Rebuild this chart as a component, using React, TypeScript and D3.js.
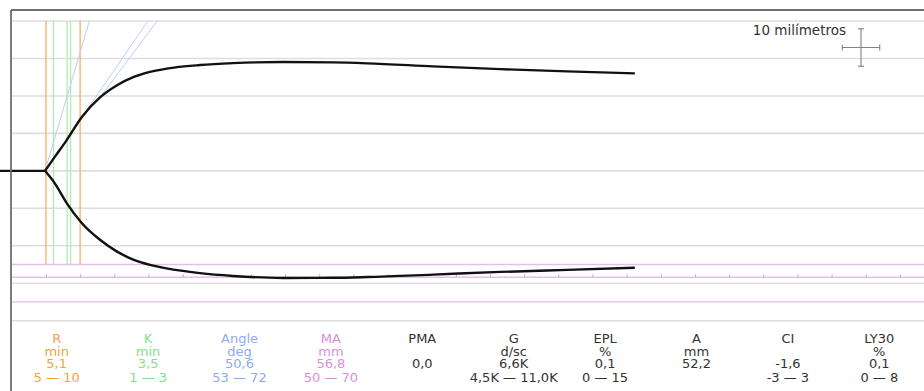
import React, { useEffect, useRef } from 'react';
import * as d3 from 'd3';

// trace (minutes, half amplitude in mm above / below the centre line)
const traceTimes = [0, 4.86, 6.32, 8.04, 10.23, 12.91, 15.35, 17.78, 20.23, 22.67, 27.55, 32.4, 39.7, 47.0, 52.0, 61.65, 71.5, 81.3, 91.2];
const upperAmp = [0, 0, 3.8, 8.22, 14.3, 19.6, 22.8, 25.0, 26.4, 27.3, 28.25, 28.75, 29.05, 28.95, 28.7, 27.9, 27.15, 26.56, 26.03];
const lowerAmp = [0, 0, 3.4, 8.6, 13.9, 18.4, 21.5, 23.7, 25.1, 26.05, 27.3, 28.05, 28.6, 28.55, 28.35, 27.7, 26.98, 26.43, 25.87];

const gridMm = [-40, -30, -20, -10, 0, 10, 20, 30, 40];
const maLinesMm = [25, 28.4, 35]; // MA range low, MA actual, MA range high (half widths)
const rValue = 5.1;
const rRange = [5, 10];
const kRange = [1, 3];
const kValue = 3.5;
const angleLines = [72, 53, 50.6];

const paramNames = ['R', 'K', 'Angle', 'MA', 'PMA', 'G', 'EPL', 'A', 'CI', 'LY30'];
const paramUnits = ['min', 'min', 'deg', 'mm', '', 'd/sc', '%', 'mm', '', '%'];
const paramValues = ['5,1', '3,5', '50,6', '56,8', '0,0', '6,6K', '0,1', '52,2', '-1,6', '0,1'];
const paramRanges = ['5 — 10', '1 — 3', '53 — 72', '50 — 70', '', '4,5K — 11,0K', '0 — 15', '', '-3 — 3', '0 — 8'];
const paramColors = ['#f2a444', '#86e08a', '#8eaaf0', '#d98fe0', '#333', '#333', '#333', '#333', '#333', '#333'];

const W = 924;
const H = 391;

const App = () => {
  const svgRef = useRef(null);

  useEffect(() => {
    const svg = d3.select(svgRef.current);
    svg.selectAll('*').remove();

    const left = 11;
    const x = d3.scaleLinear().domain([0, 130]).range([11.8, 899.9]);
    const y = d3.scaleLinear().domain([-40, 40]).range([320.7, 21]);
    const font = '"DejaVu Sans", Verdana, sans-serif';

    svg.append('rect').attr('width', W).attr('height', H).attr('fill', '#fff');

    // horizontal grid
    svg.append('g')
      .selectAll('line')
      .data(gridMm)
      .join('line')
        .attr('x1', left).attr('x2', W)
        .attr('y1', d => y(d)).attr('y2', d => y(d))
        .attr('stroke', '#dedede')
        .attr('stroke-width', 1.6);

    // MA reference lines (purple)
    svg.append('g')
      .selectAll('line')
      .data(maLinesMm)
      .join('line')
        .attr('x1', left).attr('x2', W)
        .attr('y1', d => y(-d)).attr('y2', d => y(-d))
        .attr('stroke', '#e6bdea')
        .attr('stroke-width', 1.3);

    // minute ticks on the MA line
    svg.append('g')
      .attr('transform', `translate(0,${y(-maLinesMm[1])})`)
      .call(d3.axisTop(x).tickValues(d3.range(5, 131, 5)).tickSize(3).tickFormat(() => ''))
      .call(g => g.select('.domain').remove())
      .call(g => g.selectAll('.tick line').attr('stroke', '#a9b3cf'));

    // R / K vertical markers
    const vLines = [
      ...rRange.map(t => ({ t, c: '#f4b060' })),
      ...kRange.map(k => ({ t: rValue + k, c: '#b0ecb0' })),
      { t: rValue + kValue, c: '#b0ecb0' }
    ];
    svg.append('g')
      .selectAll('line')
      .data(vLines)
      .join('line')
        .attr('x1', d => x(d.t)).attr('x2', d => x(d.t))
        .attr('y1', y(40)).attr('y2', y(-25))
        .attr('stroke', d => d.c)
        .attr('stroke-width', 1.3);

    const upperPts = traceTimes.map((t, i) => [t, upperAmp[i]]);
    const lowerPts = traceTimes.map((t, i) => [t, -lowerAmp[i]]);
    const splitIdx = 1;

    // clip region above the upper trace for the angle lines
    const clipArea = d3.area()
      .x(d => x(d[0]))
      .y0(0)
      .y1(d => y(d[1]))
      .curve(d3.curveMonotoneX);
    svg.append('clipPath').attr('id', 'above-trace')
      .append('path')
      .attr('d', clipArea([[-5, 0], ...upperPts.slice(splitIdx), [140, upperAmp[upperAmp.length - 1]]]));

    // angle lines from the split point
    const t0 = traceTimes[splitIdx];
    svg.append('g')
      .attr('clip-path', 'url(#above-trace)')
      .selectAll('line')
      .data(angleLines)
      .join('line')
        .attr('x1', x(t0)).attr('y1', y(0))
        .attr('x2', d => x(t0 + 40 / (2 * Math.tan(d * Math.PI / 180))))
        .attr('y2', y(40))
        .attr('stroke', '#bccdf2')
        .attr('stroke-width', 1);

    // trace
    const line = d3.line()
      .x(d => x(d[0]))
      .y(d => y(d[1]))
      .curve(d3.curveMonotoneX);

    svg.append('path')
      .attr('d', d3.line().x(d => x(d[0])).y(d => y(d[1]))([[-2, 0], upperPts[splitIdx]]))
      .attr('stroke', '#111').attr('stroke-width', 2.4).attr('fill', 'none');
    [upperPts, lowerPts].forEach(pts => {
      svg.append('path')
        .attr('d', line(pts.slice(splitIdx)))
        .attr('fill', 'none')
        .attr('stroke', '#111')
        .attr('stroke-width', 2.4)
        .attr('stroke-linejoin', 'round');
    });

    // frame
    svg.append('line').attr('x1', left).attr('x2', W).attr('y1', 10).attr('y2', 10)
      .attr('stroke', '#6e6e6e').attr('stroke-width', 1.8);
    svg.append('line').attr('x1', left).attr('x2', left).attr('y1', 10).attr('y2', H)
      .attr('stroke', '#6e6e6e').attr('stroke-width', 1.8);

    // 10 mm scale cross
    const cx = 861;
    const cy = 47.5;
    const half = (y(0) - y(5));
    const cross = svg.append('g').attr('stroke', '#808080').attr('stroke-width', 1.1);
    cross.append('line').attr('x1', cx).attr('x2', cx).attr('y1', cy - half).attr('y2', cy + half);
    cross.append('line').attr('x1', cx - half).attr('x2', cx + half).attr('y1', cy).attr('y2', cy);
    cross.append('line').attr('x1', cx - 3).attr('x2', cx + 3).attr('y1', cy - half).attr('y2', cy - half);
    cross.append('line').attr('x1', cx - 3).attr('x2', cx + 3).attr('y1', cy + half).attr('y2', cy + half);
    cross.append('line').attr('x1', cx - half).attr('x2', cx - half).attr('y1', cy - 3).attr('y2', cy + 3);
    cross.append('line').attr('x1', cx + half).attr('x2', cx + half).attr('y1', cy - 3).attr('y2', cy + 3);
    svg.append('text')
      .attr('x', 846).attr('y', 35)
      .attr('text-anchor', 'end')
      .attr('font-family', font).attr('font-size', 13.5)
      .attr('fill', '#333')
      .text('10 milímetros');

    // parameter table
    const col = d3.scaleBand().domain(paramNames).range([left, W + 1]);
    const rows = [paramNames, paramUnits, paramValues, paramRanges];
    const rowY = [343, 355.5, 368, 381.5];
    const table = svg.append('g')
      .attr('font-family', font)
      .attr('font-size', 13)
      .attr('text-anchor', 'middle');
    rows.forEach((row, r) => {
      table.append('g')
        .selectAll('text')
        .data(row)
        .join('text')
          .attr('x', (d, i) => col(paramNames[i]) + col.bandwidth() / 2)
          .attr('y', rowY[r])
          .attr('fill', (d, i) => paramColors[i])
          .text(d => d);
    });
  }, []);

  return (
    <svg
      ref={svgRef}
      width={W}
      height={H}
      style={{ position: 'absolute', left: 0, top: 0, display: 'block' }}
    />
  );
};

export default App;
